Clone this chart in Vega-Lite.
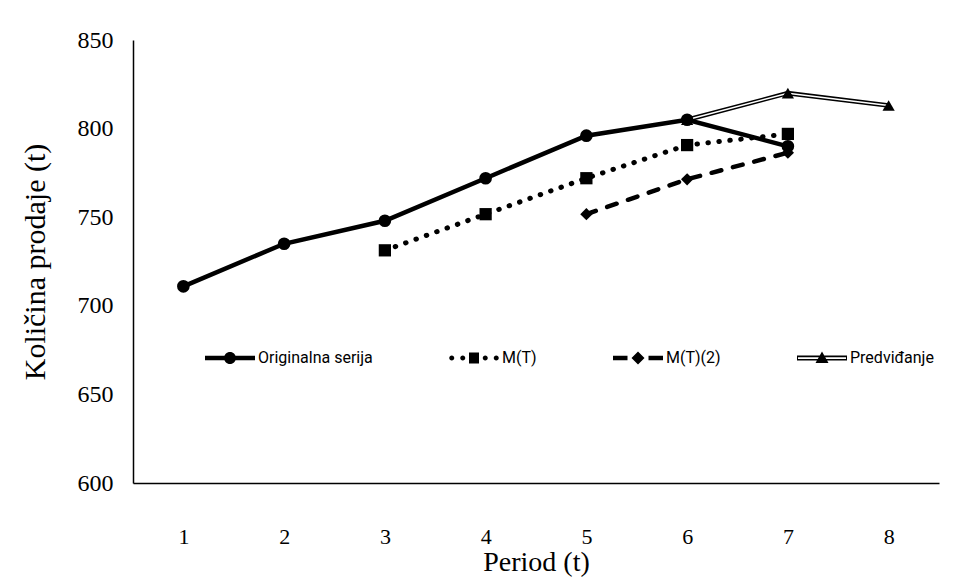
{
  "$schema": "https://vega.github.io/schema/vega-lite/v6.json",
  "width": 806,
  "height": 443,
  "autosize": {"type": "none"},
  "padding": {"left": 133, "top": 40, "right": 20, "bottom": 96},
  "background": "white",
  "config": {"view": {"stroke": null}, "font": "Liberation Serif"},
  "data": {
    "values": [
      {"period": 1, "value": 711, "series": "Originalna serija"},
      {"period": 2, "value": 735, "series": "Originalna serija"},
      {"period": 3, "value": 748, "series": "Originalna serija"},
      {"period": 4, "value": 772, "series": "Originalna serija"},
      {"period": 5, "value": 796, "series": "Originalna serija"},
      {"period": 6, "value": 805, "series": "Originalna serija"},
      {"period": 7, "value": 790, "series": "Originalna serija"},
      {"period": 3, "value": 731.3, "series": "M(T)"},
      {"period": 4, "value": 751.7, "series": "M(T)"},
      {"period": 5, "value": 772, "series": "M(T)"},
      {"period": 6, "value": 790.7, "series": "M(T)"},
      {"period": 7, "value": 797, "series": "M(T)"},
      {"period": 5, "value": 751.7, "series": "M(T)(2)"},
      {"period": 6, "value": 771.4, "series": "M(T)(2)"},
      {"period": 7, "value": 786.4, "series": "M(T)(2)"},
      {"period": 6, "value": 805, "series": "Predviđanje"},
      {"period": 7, "value": 820, "series": "Predviđanje"},
      {"period": 8, "value": 813, "series": "Predviđanje"}
    ]
  },
  "encoding": {
    "x": {
      "field": "period",
      "type": "ordinal",
      "scale": {"domain": [1, 2, 3, 4, 5, 6, 7, 8]},
      "axis": {
        "title": "Period (t)",
        "labelAngle": 0,
        "labelFont": "Liberation Serif",
        "titleFont": "Liberation Serif",
        "labelFontSize": 22,
        "titleFontSize": 28,
        "titleFontWeight": "normal",
        "labelColor": "black",
        "titleColor": "black",
        "domainColor": "black",
        "domainWidth": 1.5,
        "ticks": false,
        "grid": false,
        "labelPadding": 43,
        "titlePadding": 1
      }
    },
    "y": {
      "field": "value",
      "type": "quantitative",
      "scale": {"domain": [600, 850], "nice": false, "zero": false},
      "axis": {
        "title": "Količina prodaje (t)",
        "values": [600, 650, 700, 750, 800, 850],
        "labelFont": "Liberation Serif",
        "titleFont": "Liberation Serif",
        "labelFontSize": 24,
        "titleFontSize": 30,
        "titleFontWeight": "normal",
        "labelColor": "black",
        "titleColor": "black",
        "domainColor": "black",
        "domainWidth": 1.5,
        "ticks": false,
        "grid": false,
        "labelPadding": 20,
        "titlePadding": 27
      }
    }
  },
  "layer": [
    {
      "transform": [{"filter": "datum.series === 'Originalna serija'"}],
      "mark": {"type": "line", "color": "black", "strokeWidth": 4.5}
    },
    {
      "transform": [{"filter": "datum.series === 'M(T)'"}],
      "mark": {"type": "line", "color": "black", "strokeWidth": 5, "strokeDash": [0.5, 10.5], "strokeCap": "round"}
    },
    {
      "transform": [{"filter": "datum.series === 'M(T)(2)'"}],
      "mark": {"type": "line", "color": "black", "strokeWidth": 4.5, "strokeDash": [10, 12], "strokeCap": "round"}
    },
    {
      "transform": [{"filter": "datum.series === 'Predviđanje'"}],
      "mark": {"type": "line", "color": "black", "strokeWidth": 4.5}
    },
    {
      "transform": [{"filter": "datum.series === 'Predviđanje'"}],
      "mark": {"type": "line", "color": "white", "strokeWidth": 1.5}
    },
    {
      "transform": [{"filter": "datum.series === 'Originalna serija'"}],
      "mark": {"type": "point", "shape": "circle", "filled": true, "color": "black", "opacity": 1, "size": 160}
    },
    {
      "transform": [{"filter": "datum.series === 'M(T)'"}],
      "mark": {"type": "point", "shape": "square", "filled": true, "color": "black", "opacity": 1, "size": 150}
    },
    {
      "transform": [{"filter": "datum.series === 'M(T)(2)'"}],
      "mark": {"type": "point", "shape": "diamond", "filled": true, "color": "black", "opacity": 1, "size": 150}
    },
    {
      "transform": [{"filter": "datum.series === 'Predviđanje'"}],
      "mark": {"type": "point", "shape": "triangle-up", "filled": true, "color": "black", "opacity": 1, "size": 150}
    },
    {
      "transform": [{"filter": "false"}],
      "mark": {"type": "point", "filled": true, "color": "black", "opacity": 1},
      "encoding": {
        "shape": {
          "field": "series",
          "type": "nominal",
          "scale": {
            "domain": ["Originalna serija", "M(T)", "M(T)(2)", "Predviđanje"],
            "range": [
              "M-1,-0.09L1,-0.09L1,0.09L-1,0.09Z M-0.24,0A0.24,0.24 0 1,1 0.24,0A0.24,0.24 0 1,1 -0.24,0Z",
              "M-0.99,0A0.1,0.1 0 1,1 -0.79,0A0.1,0.1 0 1,1 -0.99,0Z M-0.55,0A0.1,0.1 0 1,1 -0.35,0A0.1,0.1 0 1,1 -0.55,0Z M-0.2,-0.22L0.2,-0.22L0.2,0.22L-0.2,0.22Z M0.35,0A0.1,0.1 0 1,1 0.55,0A0.1,0.1 0 1,1 0.35,0Z M0.79,0A0.1,0.1 0 1,1 0.99,0A0.1,0.1 0 1,1 0.79,0Z",
              "M-1,-0.09L-0.42,-0.09L-0.42,0.09L-1,0.09Z M0,-0.26L0.26,0L0,0.26L-0.26,0Z M0.42,-0.09L1,-0.09L1,0.09L0.42,0.09Z",
              "M-1,-0.1L1,-0.1L1,0.1L-1,0.1Z M-0.96,-0.035L-0.96,0.035L0.96,0.035L0.96,-0.035Z M0,-0.26L0.26,0.2L-0.26,0.2Z"
            ]
          },
          "legend": {
            "title": null,
            "orient": "none",
            "legendX": 72,
            "legendY": 293,
            "direction": "horizontal",
            "symbolSize": 2500,
            "symbolStrokeWidth": 0,
            "labelFont": "Roboto",
            "labelFontSize": 16,
            "labelColor": "black",
            "labelOffset": 3,
            "columnPadding": 76
          }
        }
      }
    }
  ]
}
